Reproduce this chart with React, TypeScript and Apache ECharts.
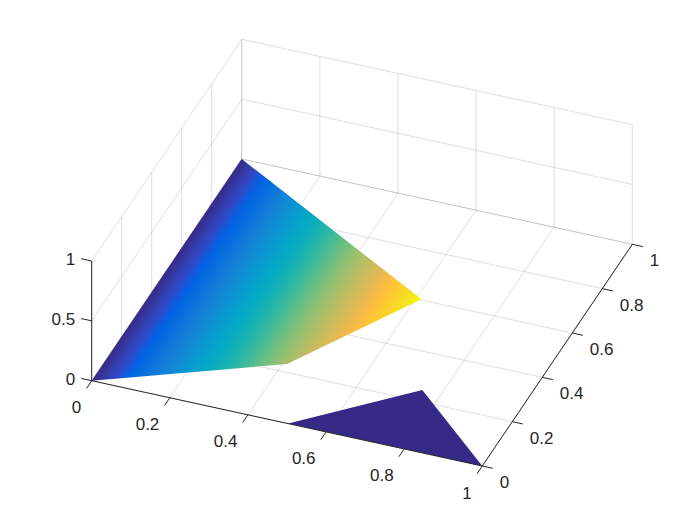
import React, { useEffect, useRef } from "react";
import * as echarts from "echarts";

const xTicks = [0, 0.2, 0.4, 0.6, 0.8, 1];
const yTicks = [0, 0.2, 0.4, 0.6, 0.8, 1];
const zTicks = [0, 0.5, 1];
const xTickLabels = ["0", "0.2", "0.4", "0.6", "0.8", "1"];
const yTickLabels = ["0", "0.2", "0.4", "0.6", "0.8", "1"];
const zTickLabels = ["0", "0.5", "1"];

// surface patches in data coordinates [x, y, z]
const gradientPatch = [
  [0, 0, 0],
  [0, 1, 0],
  [0.613, 0.603, 0],
  [0.4105, 0.2333, 0],
];
const flatPatch = [
  [0.503, 0, 0],
  [0.7515, 0.247, 0],
  [1, 0, 0],
];
const colorLimitX = 0.613;

const parula = [
  [0.2081, 0.1663, 0.5292], [0.2116, 0.1898, 0.5777], [0.2123, 0.2138, 0.627], [0.2081, 0.2386, 0.6771],
  [0.1959, 0.2645, 0.7279], [0.1707, 0.2919, 0.7792], [0.1253, 0.3242, 0.8303], [0.0591, 0.3598, 0.8683],
  [0.0117, 0.3875, 0.882], [0.006, 0.4086, 0.8828], [0.0165, 0.4266, 0.8786], [0.0329, 0.443, 0.872],
  [0.0498, 0.4586, 0.8641], [0.0629, 0.4737, 0.8554], [0.0723, 0.4887, 0.8467], [0.0779, 0.504, 0.8384],
  [0.0793, 0.52, 0.8312], [0.0749, 0.5375, 0.8263], [0.0641, 0.557, 0.824], [0.0488, 0.5772, 0.8228],
  [0.0343, 0.5966, 0.8199], [0.0265, 0.6137, 0.8135], [0.0239, 0.6287, 0.8038], [0.0231, 0.6418, 0.7913],
  [0.0228, 0.6535, 0.7768], [0.0267, 0.6642, 0.7607], [0.0384, 0.6743, 0.7436], [0.059, 0.6838, 0.7254],
  [0.0843, 0.6928, 0.7062], [0.1133, 0.7015, 0.6859], [0.1453, 0.7098, 0.6646], [0.1801, 0.7177, 0.6424],
  [0.2178, 0.725, 0.6193], [0.2586, 0.7317, 0.5954], [0.3022, 0.7376, 0.5712], [0.3482, 0.7424, 0.5473],
  [0.3953, 0.7459, 0.5244], [0.442, 0.7481, 0.5033], [0.4871, 0.7491, 0.484], [0.53, 0.7491, 0.4661],
  [0.5709, 0.7485, 0.4494], [0.6099, 0.7473, 0.4337], [0.6473, 0.7456, 0.4188], [0.6834, 0.7435, 0.4044],
  [0.7184, 0.7411, 0.3905], [0.7525, 0.7384, 0.3768], [0.7858, 0.7356, 0.3633], [0.8185, 0.7327, 0.3498],
  [0.8507, 0.7299, 0.336], [0.8824, 0.7274, 0.3217], [0.9139, 0.7258, 0.3063], [0.945, 0.7261, 0.2886],
  [0.9739, 0.7314, 0.2666], [0.9938, 0.7455, 0.2403], [0.999, 0.7653, 0.2164], [0.9955, 0.7861, 0.1967],
  [0.988, 0.8066, 0.1794], [0.9789, 0.8271, 0.1633], [0.9697, 0.8481, 0.1475], [0.9626, 0.8705, 0.1309],
  [0.9589, 0.8949, 0.1132], [0.9598, 0.9218, 0.0948], [0.9661, 0.9514, 0.0755], [0.9763, 0.9831, 0.0538],
];
const toRgb = (c: number[]) =>
  `rgb(${Math.round(c[0] * 255)},${Math.round(c[1] * 255)},${Math.round(c[2] * 255)})`;

// orthographic projection of the 3-D box onto the page plane
const origin = [91.7, 380.7];
const ex = [390.6, 85.3];
const ey = [150, -221.7];
const ez = [0, -119.7];

function project(x: number, y: number, z: number): number[] {
  return [
    origin[0] + ex[0] * x + ey[0] * y + ez[0] * z,
    origin[1] + ex[1] * x + ey[1] * y + ez[1] * z,
  ];
}

const GRID = "rgba(38,38,38,0.15)";
const AXIS = "#262626";

type Seg = number[];
const gridSegs: Seg[] = [];
for (const x of xTicks) {
  gridSegs.push([x, 0, 0, x, 1, 0]);
  gridSegs.push([x, 1, 0, x, 1, 1]);
}
for (const y of yTicks) {
  gridSegs.push([0, y, 0, 1, y, 0]);
  gridSegs.push([0, y, 0, 0, y, 1]);
}
for (const z of zTicks) {
  gridSegs.push([0, 1, z, 1, 1, z]);
  gridSegs.push([0, 0, z, 0, 1, z]);
}

const TICK_X = 0.035;
const TICK_Y = 0.027;
const TICK_Z = 0.027;
const axisSegs: Seg[] = [
  [0, 0, 0, 1, 0, 0],
  [1, 0, 0, 1, 1, 0],
  [0, 0, 0, 0, 0, 1],
];
for (const x of xTicks) axisSegs.push([x, 0, 0, x, -TICK_X, 0]);
for (const y of yTicks) axisSegs.push([1, y, 0, 1 + TICK_Y, y, 0]);
for (const z of zTicks) axisSegs.push([0, 0, z, -TICK_Z, 0, z]);

type Label = { text: string; p: number[]; dx: number; dy: number; align: string };
const labels: Label[] = [
  ...xTicks.map((x, i) => ({ text: xTickLabels[i], p: [x, 0, 0], dx: -10.5, dy: 27, align: "right" })),
  ...yTicks.map((y, i) => ({ text: yTickLabels[i], p: [1, y, 0], dx: 17.5, dy: 16.5, align: "left" })),
  ...zTicks.map((z, i) => ({ text: zTickLabels[i], p: [0, 0, z], dx: -16.5, dy: -1.5, align: "right" })),
];

const renderSeg = (color: string) => (_params: any, api: any) => {
  const a = api.coord(project(api.value(0), api.value(1), api.value(2)));
  const b = api.coord(project(api.value(3), api.value(4), api.value(5)));
  return {
    type: "line",
    shape: { x1: a[0], y1: a[1], x2: b[0], y2: b[1] },
    style: { stroke: color, lineWidth: 1, fill: "none" },
    silent: true,
  };
};

function patchFill(api: any) {
  const p0 = api.coord(project(0, 0, 0));
  const pyEnd = api.coord(project(0, 1, 0));
  const px = api.coord(project(colorLimitX, 0, 0));
  const d = [pyEnd[0] - p0[0], pyEnd[1] - p0[1]];
  const len = Math.hypot(d[0], d[1]);
  const n = [-d[1] / len, d[0] / len];
  const t = (px[0] - p0[0]) * n[0] + (px[1] - p0[1]) * n[1];
  const stops = parula.map((c, i) => ({ offset: i / (parula.length - 1), color: toRgb(c) }));
  return new echarts.graphic.LinearGradient(
    p0[0], p0[1], p0[0] + n[0] * t, p0[1] + n[1] * t, stops, true,
  );
}

export default function App() {
  const ref = useRef<HTMLDivElement>(null);
  useEffect(() => {
    const chart = echarts.init(ref.current!, null, { renderer: "svg" });
    const line = (data: Seg[], color: string, z: number) => ({
      type: "custom",
      coordinateSystem: "cartesian2d",
      clip: false,
      silent: true,
      z,
      data,
      encode: { x: 0, y: 1 },
      renderItem: renderSeg(color),
    });
    chart.setOption({
      animation: false,
      backgroundColor: "#ffffff",
      grid: { left: 0, right: 0, top: 0, bottom: 0 },
      xAxis: { type: "value", min: 0, max: 700, show: false },
      yAxis: { type: "value", min: 0, max: 525, inverse: true, show: false },
      series: [
        line(gridSegs, GRID, 1),
        {
          type: "custom",
          coordinateSystem: "cartesian2d",
          clip: false,
          silent: true,
          z: 2,
          data: [[0], [1]],
          encode: { x: 0 },
          renderItem: (params: any, api: any) => {
            const patch = params.dataIndex === 0 ? gradientPatch : flatPatch;
            const pts = patch.map((v) => api.coord(project(v[0], v[1], v[2])));
            return {
              type: "polygon",
              shape: { points: pts },
              style: { fill: params.dataIndex === 0 ? patchFill(api) : toRgb(parula[0]), stroke: "none" },
            };
          },
        },
        line(axisSegs, AXIS, 3),
        {
          type: "custom",
          coordinateSystem: "cartesian2d",
          clip: false,
          silent: true,
          z: 4,
          data: labels.map((_, i) => [i]),
          encode: { x: 0 },
          renderItem: (params: any, api: any) => {
            const l = labels[params.dataIndex];
            const c = api.coord(project(l.p[0], l.p[1], l.p[2]));
            return {
              type: "text",
              x: c[0] + l.dx,
              y: c[1] + l.dy,
              style: {
                text: l.text,
                fill: AXIS,
                font: '17px "Liberation Sans", Arial, sans-serif',
                align: l.align,
                verticalAlign: "middle",
              },
            };
          },
        },
      ],
    });
    return () => chart.dispose();
  }, []);
  return <div ref={ref} style={{ position: "absolute", left: 0, top: 0, width: 700, height: 525 }} />;
}
